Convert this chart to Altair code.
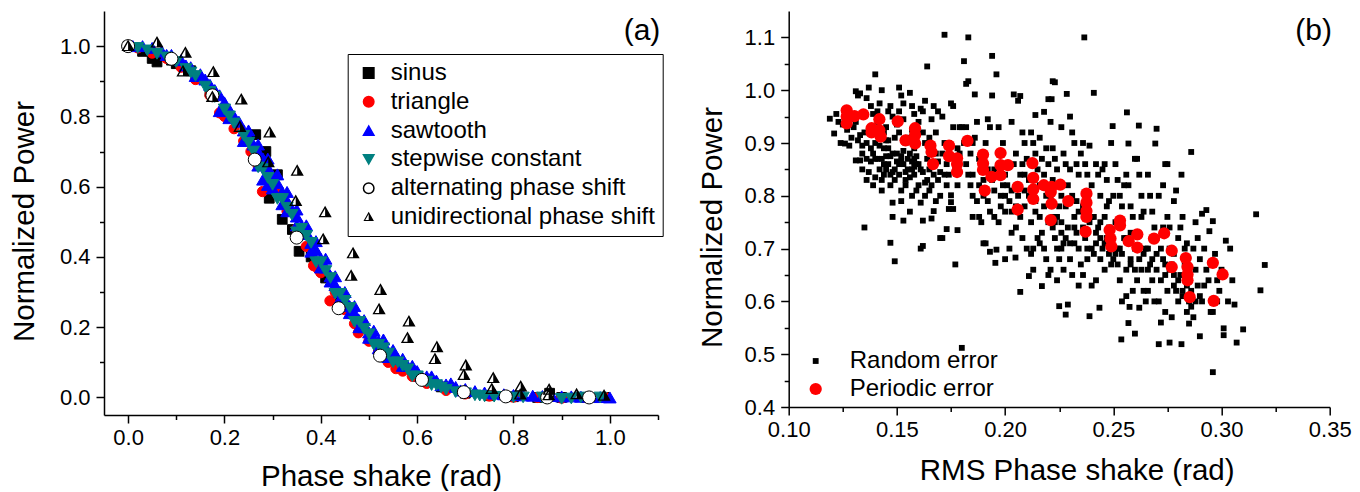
import altair as alt
import pandas as pd

FONT = "Liberation Sans"

# ---------------- panel (a): normalized power vs phase shake ----------------
SERIES_A = ["sinus", "triangle", "sawtooth", "stepwise constant",
            "alternating phase shift", "unidirectional phase shift"]

SINUS = [(0.0, 1.0), (0.03, 0.985), (0.05, 0.965), (0.06, 0.955), (0.09, 0.96),
         (0.10, 0.95), (0.13, 0.93), (0.17, 0.87), (0.21, 0.80), (0.25, 0.735),
         (0.265, 0.748), (0.286, 0.70), (0.293, 0.567), (0.30, 0.62), (0.31, 0.634),
         (0.32, 0.507), (0.341, 0.478), (0.355, 0.416), (0.38, 0.40), (0.41, 0.34),
         (0.44, 0.28), (0.48, 0.20), (0.52, 0.14), (0.56, 0.09), (0.60, 0.06),
         (0.65, 0.03), (0.70, 0.012), (0.75, 0.005), (0.80, 0.002), (0.85, 0.0),
         (0.875, 0.012), (0.90, 0.0), (0.95, 0.0), (0.99, 0.0)]

TRIANGLE = [(0.02, 0.995), (0.05, 0.98), (0.08, 0.965), (0.11, 0.94), (0.14, 0.905),
            (0.17, 0.86), (0.19, 0.81), (0.20, 0.80), (0.22, 0.765), (0.24, 0.73),
            (0.255, 0.70), (0.27, 0.66), (0.279, 0.586), (0.29, 0.62), (0.31, 0.58),
            (0.33, 0.53), (0.35, 0.48), (0.37, 0.43), (0.385, 0.375), (0.395, 0.365),
            (0.40, 0.355), (0.419, 0.275), (0.43, 0.30), (0.45, 0.25), (0.47, 0.21),
            (0.478, 0.184), (0.50, 0.16), (0.52, 0.13), (0.54, 0.10), (0.556, 0.082),
            (0.57, 0.075), (0.59, 0.06), (0.62, 0.04), (0.66, 0.02), (0.70, 0.01),
            (0.75, 0.004), (0.80, 0.001), (0.85, 0.0), (0.90, -0.002), (0.95, 0.0),
            (0.99, 0.0)]

SAWTOOTH = [(0.01, 1.0), (0.03, 1.0), (0.05, 0.995), (0.07, 0.985), (0.09, 0.975),
            (0.11, 0.96), (0.13, 0.94), (0.15, 0.92), (0.16, 0.905), (0.17, 0.89),
            (0.18, 0.875), (0.19, 0.86), (0.20, 0.84), (0.21, 0.82), (0.22, 0.80),
            (0.23, 0.785), (0.24, 0.76), (0.25, 0.74), (0.26, 0.72), (0.27, 0.70),
            (0.28, 0.68), (0.29, 0.655), (0.30, 0.63), (0.31, 0.61), (0.32, 0.585),
            (0.33, 0.56), (0.34, 0.535), (0.35, 0.515), (0.36, 0.49), (0.37, 0.47),
            (0.38, 0.44), (0.39, 0.42), (0.40, 0.395), (0.41, 0.37), (0.42, 0.345),
            (0.43, 0.32), (0.44, 0.30), (0.45, 0.28), (0.46, 0.26), (0.47, 0.24),
            (0.48, 0.22), (0.49, 0.20), (0.50, 0.185), (0.51, 0.17), (0.52, 0.16),
            (0.53, 0.145), (0.54, 0.13), (0.55, 0.12), (0.56, 0.11), (0.58, 0.09),
            (0.60, 0.075), (0.62, 0.06), (0.64, 0.048), (0.66, 0.037), (0.68, 0.03),
            (0.70, 0.024), (0.72, 0.018), (0.74, 0.014), (0.76, 0.011), (0.78, 0.009),
            (0.80, 0.007), (0.82, 0.006), (0.84, 0.005), (0.86, 0.004), (0.88, 0.004),
            (0.90, 0.003), (0.92, 0.003), (0.94, 0.002), (0.96, 0.002), (0.98, 0.001),
            (1.0, 0.0),
            (0.08, 0.975), (0.12, 0.945), (0.14, 0.915), (0.19, 0.815), (0.21, 0.795),
            (0.24, 0.73), (0.27, 0.66), (0.28, 0.62), (0.29, 0.605), (0.30, 0.595),
            (0.32, 0.55), (0.33, 0.53), (0.35, 0.49), (0.36, 0.465), (0.38, 0.415),
            (0.40, 0.37), (0.42, 0.33), (0.44, 0.28), (0.46, 0.24), (0.48, 0.20),
            (0.50, 0.17), (0.52, 0.14), (0.54, 0.115), (0.57, 0.09), (0.61, 0.06),
            (0.65, 0.035), (0.69, 0.02),
            (0.25, 0.76), (0.27, 0.72), (0.29, 0.68), (0.31, 0.635), (0.33, 0.585),
            (0.35, 0.535), (0.37, 0.49), (0.39, 0.445), (0.41, 0.395), (0.43, 0.345),
            (0.45, 0.30), (0.47, 0.26), (0.49, 0.22), (0.51, 0.19), (0.53, 0.165),
            (0.55, 0.135), (0.57, 0.11), (0.59, 0.09), (0.63, 0.06), (0.67, 0.04)]

STEPWISE = [(0.02, 0.995), (0.04, 0.988), (0.06, 0.978), (0.08, 0.968), (0.10, 0.955),
            (0.12, 0.935), (0.13, 0.925), (0.14, 0.915), (0.16, 0.885), (0.17, 0.87),
            (0.18, 0.855), (0.20, 0.82), (0.21, 0.80), (0.22, 0.78), (0.24, 0.745),
            (0.25, 0.725), (0.26, 0.70), (0.28, 0.65), (0.29, 0.625), (0.30, 0.605),
            (0.32, 0.565), (0.33, 0.54), (0.34, 0.52), (0.36, 0.48), (0.37, 0.46),
            (0.38, 0.44), (0.40, 0.385), (0.41, 0.36), (0.42, 0.34), (0.44, 0.295),
            (0.45, 0.275), (0.46, 0.255), (0.48, 0.215), (0.49, 0.195), (0.50, 0.18),
            (0.52, 0.15), (0.53, 0.14), (0.54, 0.125), (0.56, 0.10), (0.57, 0.09),
            (0.58, 0.08), (0.60, 0.06), (0.62, 0.045), (0.64, 0.035), (0.65, 0.028),
            (0.66, 0.022), (0.68, 0.015), (0.70, 0.012), (0.72, 0.006), (0.73, 0.005),
            (0.74, 0.003), (0.76, 0.002), (0.78, 0.001), (0.80, 0.0), (0.82, 0.0),
            (0.86, 0.0), (0.90, -0.004), (0.92, -0.003), (0.94, 0.0), (0.98, 0.0),
            (0.27, 0.655), (0.31, 0.565), (0.35, 0.47), (0.39, 0.385), (0.43, 0.295),
            (0.47, 0.215), (0.51, 0.15), (0.55, 0.10), (0.59, 0.06), (0.63, 0.035)]

ALTERNATING = [(0.0, 1.0), (0.09, 0.964), (0.175, 0.86), (0.263, 0.677), (0.35, 0.455),
               (0.437, 0.254), (0.523, 0.119), (0.61, 0.05), (0.697, 0.015),
               (0.784, 0.003), (0.87, 0.0), (0.957, 0.0)]

UNIDIRECTIONAL = [(0.0, 1.0), (0.06, 1.01), (0.119, 0.981), (0.114, 0.928), (0.177, 0.926),
                  (0.175, 0.855), (0.235, 0.848), (0.232, 0.77), (0.294, 0.754),
                  (0.291, 0.669), (0.351, 0.645), (0.348, 0.559), (0.409, 0.527),
                  (0.405, 0.45), (0.467, 0.41), (0.463, 0.346), (0.524, 0.306),
                  (0.521, 0.251), (0.583, 0.216), (0.58, 0.169), (0.641, 0.143),
                  (0.637, 0.109), (0.701, 0.091), (0.697, 0.064), (0.758, 0.055),
                  (0.755, 0.024), (0.815, 0.031), (0.814, 0.008), (0.874, 0.022),
                  (0.873, 0.006), (0.931, 0.009), (0.988, 0.005)]

# triangle whose right half is solid and left half is only outlined
HALF_TRIANGLE = ("M0,-1L1,0.75L0,0.75Z"
                 "M0,-1L-1,0.75L0,0.75Z"
                 "M0,-0.58L0,0.57L-0.65,0.57Z")

SHAPES_A = ["square", "circle", "triangle-up", "triangle-down", "circle", HALF_TRIANGLE]
FILLS_A = ["#000000", "#ff0000", "#0000ff", "#008080", "#ffffff", "#000000"]
STROKES_A = ["#000000", "#ff0000", "#0000ff", "#008080", "#000000", "transparent"]
SIZES_A = [95, 105, 160, 150, 170, 175]

A_X_DOMAIN = [-0.05, 1.1]
A_Y_DOMAIN = [-0.05, 1.1]
A_MAJOR = [0.0, 0.2, 0.4, 0.6, 0.8, 1.0]
A_X_MINOR = [0.1, 0.3, 0.5, 0.7, 0.9, 1.1]
A_Y_MINOR = [0.1, 0.3, 0.5, 0.7, 0.9]

# ---------------- panel (b): normalized power vs RMS phase shake ----------------
SERIES_B = ["Random error", "Periodic error"]

RANDOM = [
    (0.119, 0.946), (0.121, 0.918), (0.122, 0.955), (0.124, 0.90), (0.125, 0.935), (0.123, 0.94),
    (0.126, 0.899), (0.127, 0.925), (0.128, 0.895), (0.129, 0.91), (0.127, 0.96), (0.129, 0.945), (0.13, 0.93),
    (0.131, 0.998), (0.132, 0.99), (0.133, 0.994), (0.131, 0.867), (0.133, 0.867), (0.132, 0.905),
    (0.134, 0.895), (0.134, 0.85), (0.135, 0.74), (0.133, 0.915), (0.135, 0.92), (0.131, 0.94),
    (0.137, 1.005), (0.136, 0.985), (0.138, 0.97), (0.136, 0.83), (0.137, 0.845), (0.138, 0.865),
    (0.139, 0.82), (0.139, 0.88), (0.136, 0.90), (0.138, 0.93), (0.139, 0.955), (0.14, 1.03),
    (0.14, 0.835), (0.14, 0.90),
    (0.141, 0.96), (0.142, 0.975), (0.143, 1.0), (0.141, 0.87), (0.142, 0.85), (0.143, 0.81),
    (0.143, 0.83), (0.144, 0.89), (0.144, 0.86), (0.145, 0.93), (0.145, 0.905), (0.142, 0.915),
    (0.141, 0.94), (0.144, 0.84), (0.145, 0.875),
    (0.146, 0.96), (0.147, 0.97), (0.148, 0.95), (0.146, 0.89), (0.147, 0.711), (0.148, 0.76),
    (0.149, 0.676), (0.148, 0.787), (0.147, 0.82), (0.149, 0.85), (0.15, 0.88), (0.146, 0.86),
    (0.149, 0.91), (0.15, 0.935), (0.148, 0.845), (0.147, 0.875),
    (0.151, 1.005), (0.152, 0.99), (0.151, 0.96), (0.153, 0.975), (0.152, 0.79), (0.153, 0.753),
    (0.154, 0.82), (0.151, 0.84), (0.152, 0.865), (0.153, 0.885), (0.154, 0.90), (0.155, 0.85),
    (0.155, 0.87), (0.151, 0.92), (0.153, 0.945), (0.154, 0.83), (0.152, 0.81), (0.155, 0.91),
    (0.156, 0.995), (0.157, 0.97), (0.158, 0.955), (0.156, 0.77), (0.157, 0.80), (0.158, 0.84),
    (0.159, 0.86), (0.156, 0.88), (0.157, 0.85), (0.158, 0.87), (0.159, 0.90), (0.16, 0.82),
    (0.16, 0.94), (0.159, 0.81), (0.157, 0.925), (0.158, 0.89),
    (0.161, 0.965), (0.162, 0.96), (0.163, 0.98), (0.161, 0.70), (0.162, 0.705), (0.161, 0.787),
    (0.162, 0.753), (0.163, 0.80), (0.164, 0.83), (0.164, 0.87), (0.165, 0.85), (0.163, 0.90),
    (0.162, 0.92), (0.164, 1.045), (0.165, 0.91), (0.161, 0.85),
    (0.166, 0.757), (0.167, 0.771), (0.168, 0.79), (0.166, 0.82), (0.167, 0.84), (0.168, 0.88),
    (0.169, 0.865), (0.17, 0.845), (0.166, 0.945), (0.167, 0.97), (0.168, 0.92), (0.169, 0.96),
    (0.17, 0.80), (0.17, 0.72),
    (0.171, 0.72), (0.173, 0.737), (0.172, 1.105), (0.174, 0.775), (0.175, 0.788), (0.172, 0.84),
    (0.173, 0.86), (0.174, 0.90), (0.175, 0.975), (0.176, 0.97), (0.171, 0.95), (0.173, 0.82),
    (0.175, 0.801),
    (0.177, 0.67), (0.176, 0.775), (0.178, 0.735), (0.179, 0.93), (0.18, 0.512), (0.178, 0.82),
    (0.177, 0.85), (0.179, 0.88), (0.18, 0.93), (0.176, 0.93), (0.178, 0.89),
    (0.181, 1.055), (0.182, 1.012), (0.183, 1.017), (0.183, 1.10), (0.181, 0.90), (0.182, 0.86),
    (0.183, 0.84), (0.184, 0.82), (0.185, 0.80), (0.182, 0.93), (0.184, 0.88), (0.185, 0.90),
    (0.185, 0.76),
    (0.186, 0.992), (0.187, 0.79), (0.188, 0.82), (0.189, 0.85), (0.19, 0.87), (0.186, 0.91),
    (0.187, 0.94), (0.188, 0.76), (0.189, 0.75), (0.19, 0.71), (0.19, 0.80),
    (0.191, 0.71), (0.193, 0.694), (0.194, 1.065), (0.194, 0.99), (0.192, 0.945), (0.193, 0.93),
    (0.191, 0.90), (0.192, 0.85), (0.194, 0.83), (0.195, 0.81), (0.195, 0.76), (0.193, 0.77),
    (0.192, 0.79),
    (0.196, 1.03), (0.196, 0.698), (0.1955, 0.673), (0.197, 0.93), (0.198, 0.86), (0.199, 0.82),
    (0.20, 0.68), (0.197, 0.75), (0.198, 0.78), (0.20, 0.80), (0.199, 0.90), (0.20, 0.84),
    (0.202, 0.70), (0.203, 0.94), (0.204, 0.992), (0.2048, 0.683), (0.201, 0.82), (0.202, 0.79),
    (0.203, 0.77), (0.204, 0.86), (0.205, 0.88), (0.205, 0.74), (0.201, 0.86), (0.203, 0.73),
    (0.207, 0.989), (0.207, 0.618), (0.206, 0.98), (0.208, 0.92), (0.209, 0.90), (0.206, 0.80),
    (0.207, 0.76), (0.208, 0.72), (0.209, 0.84), (0.21, 0.87), (0.21, 0.70), (0.209, 0.78),
    (0.208, 0.86),
    (0.211, 0.648), (0.214, 0.953), (0.212, 0.92), (0.213, 0.90), (0.211, 0.83), (0.212, 0.75),
    (0.213, 0.70), (0.214, 0.77), (0.215, 0.85), (0.215, 0.72), (0.211, 0.80), (0.214, 0.88),
    (0.212, 0.69), (0.213, 0.66),
    (0.217, 0.629), (0.218, 0.959), (0.216, 0.91), (0.217, 0.87), (0.218, 0.84), (0.219, 0.80),
    (0.216, 0.76), (0.217, 0.73), (0.218, 0.70), (0.219, 0.68), (0.22, 0.65), (0.22, 0.983),
    (0.219, 0.89), (0.22, 0.86), (0.216, 0.71),
    (0.2215, 0.983), (0.222, 1.017), (0.223, 1.015), (0.221, 0.94), (0.222, 0.89), (0.223, 0.87),
    (0.224, 0.85), (0.221, 0.80), (0.222, 0.76), (0.223, 0.72), (0.224, 0.70), (0.225, 0.68),
    (0.225, 0.591), (0.224, 0.64), (0.221, 0.66), (0.223, 0.75), (0.225, 0.78), (0.222, 0.83),
    (0.2285, 0.993), (0.226, 0.93), (0.227, 0.88), (0.228, 0.86), (0.229, 0.82), (0.226, 0.75),
    (0.227, 0.71), (0.228, 0.575), (0.229, 0.594), (0.23, 0.68), (0.23, 0.95), (0.226, 0.80),
    (0.227, 0.66), (0.229, 0.74), (0.228, 0.78), (0.23, 0.85), (0.226, 0.70),
    (0.231, 0.92), (0.232, 0.90), (0.233, 0.86), (0.234, 0.84), (0.231, 0.80), (0.232, 0.76),
    (0.233, 0.73), (0.234, 0.70), (0.235, 0.67), (0.231, 0.65), (0.235, 0.88), (0.233, 0.79),
    (0.232, 0.71), (0.234, 0.63),
    (0.2366, 1.10), (0.236, 0.90), (0.237, 0.86), (0.238, 0.84), (0.239, 0.895), (0.236, 0.78),
    (0.237, 0.72), (0.238, 0.68), (0.239, 0.572), (0.24, 0.63), (0.24, 0.82), (0.236, 0.65),
    (0.238, 0.70), (0.239, 0.75), (0.24, 0.76),
    (0.241, 0.995), (0.242, 0.86), (0.243, 0.84), (0.244, 0.80), (0.241, 0.76), (0.242, 0.71),
    (0.2436, 0.588), (0.244, 0.68), (0.245, 0.70), (0.245, 0.85), (0.241, 0.69), (0.243, 0.74),
    (0.242, 0.64), (0.244, 0.72),
    (0.246, 0.86), (0.247, 0.83), (0.248, 0.79), (0.249, 0.90), (0.2497, 0.932), (0.246, 0.76),
    (0.247, 0.72), (0.248, 0.69), (0.249, 0.67), (0.25, 0.80), (0.25, 0.70), (0.246, 0.66),
    (0.248, 0.74), (0.247, 0.78),
    (0.251, 0.86), (0.252, 0.83), (0.253, 0.80), (0.254, 0.78), (0.2537, 0.528), (0.251, 0.69),
    (0.252, 0.67), (0.253, 0.64), (0.254, 0.60), (0.255, 0.72), (0.255, 0.82), (0.251, 0.75),
    (0.253, 0.70),
    (0.2563, 0.958), (0.257, 0.899), (0.257, 0.559), (0.2575, 0.5896), (0.256, 0.84), (0.257, 0.82),
    (0.258, 0.78), (0.259, 0.76), (0.256, 0.66), (0.258, 0.68), (0.259, 0.62), (0.26, 0.539),
    (0.26, 0.87), (0.258, 0.73), (0.26, 0.70), (0.256, 0.61),
    (0.2618, 0.933), (0.262, 0.588), (0.261, 0.87), (0.262, 0.84), (0.263, 0.80), (0.264, 0.77),
    (0.261, 0.73), (0.262, 0.70), (0.263, 0.66), (0.264, 0.62), (0.265, 0.60), (0.265, 0.70),
    (0.261, 0.64), (0.263, 0.76),
    (0.2694, 0.899), (0.27, 0.927), (0.266, 0.84), (0.267, 0.80), (0.268, 0.77), (0.269, 0.74),
    (0.266, 0.70), (0.267, 0.67), (0.268, 0.64), (0.269, 0.60), (0.27, 0.72), (0.27, 0.66),
    (0.266, 0.62),
    (0.271, 0.519), (0.272, 0.56), (0.273, 0.82), (0.274, 0.86), (0.275, 0.86), (0.271, 0.80),
    (0.272, 0.70), (0.273, 0.68), (0.274, 0.65), (0.275, 0.62), (0.271, 0.60), (0.273, 0.74),
    (0.275, 0.76), (0.274, 0.58),
    (0.276, 0.522), (0.277, 0.57), (0.278, 0.79), (0.279, 0.81), (0.276, 0.70), (0.277, 0.67),
    (0.278, 0.65), (0.279, 0.62), (0.28, 0.60), (0.28, 0.72), (0.276, 0.74), (0.278, 0.69),
    (0.2815, 0.519), (0.2815, 0.84), (0.282, 0.76), (0.283, 0.70), (0.284, 0.58), (0.281, 0.65),
    (0.282, 0.62), (0.283, 0.67), (0.285, 0.558), (0.285, 0.60), (0.284, 0.71), (0.281, 0.74),
    (0.286, 0.883), (0.287, 0.70), (0.288, 0.66), (0.289, 0.63), (0.29, 0.534), (0.286, 0.59),
    (0.287, 0.57), (0.288, 0.75), (0.29, 0.68), (0.289, 0.72),
    (0.291, 0.766), (0.293, 0.773), (0.2944, 0.733), (0.292, 0.70), (0.293, 0.66), (0.294, 0.64),
    (0.291, 0.60), (0.295, 0.58), (0.292, 0.63),
    (0.296, 0.752), (0.296, 0.466), (0.297, 0.69), (0.298, 0.64), (0.299, 0.62), (0.296, 0.58),
    (0.298, 0.60), (0.30, 0.66),
    (0.301, 0.549), (0.301, 0.536), (0.302, 0.715), (0.304, 0.70), (0.306, 0.594), (0.307, 0.522),
    (0.31, 0.547), (0.303, 0.60), (0.305, 0.64),
    (0.316, 0.765), (0.318, 0.621), (0.32, 0.669),
]

# extra random-error runs in the crowded parts of the cloud
RANDOM_DENSE = [
    (0.143, 0.87), (0.145, 0.85), (0.147, 0.84), (0.149, 0.83), (0.151, 0.86), (0.152, 0.875),
    (0.153, 0.86), (0.154, 0.845), (0.156, 0.835), (0.157, 0.865), (0.158, 0.855), (0.159, 0.875),
    (0.15, 0.865), (0.148, 0.88), (0.146, 0.905), (0.144, 0.92), (0.142, 0.895), (0.14, 0.87),
    (0.138, 0.89), (0.136, 0.87), (0.134, 0.88), (0.16, 0.86), (0.162, 0.845), (0.163, 0.825),
    (0.165, 0.81), (0.167, 0.86), (0.169, 0.83), (0.171, 0.88), (0.172, 0.90), (0.174, 0.84),
    (0.212, 0.81), (0.214, 0.79), (0.216, 0.82), (0.218, 0.78), (0.22, 0.75), (0.222, 0.74),
    (0.224, 0.76), (0.226, 0.73), (0.228, 0.72), (0.23, 0.71), (0.232, 0.74), (0.234, 0.77),
    (0.236, 0.74), (0.238, 0.76), (0.24, 0.70), (0.242, 0.73), (0.244, 0.75), (0.246, 0.71),
    (0.248, 0.72), (0.25, 0.68), (0.252, 0.70), (0.254, 0.69), (0.256, 0.72), (0.258, 0.67),
    (0.26, 0.66), (0.262, 0.68), (0.264, 0.69), (0.266, 0.66), (0.268, 0.68), (0.27, 0.69),
    (0.272, 0.64), (0.274, 0.67), (0.276, 0.66), (0.278, 0.63), (0.28, 0.64), (0.282, 0.61),
    (0.284, 0.63), (0.286, 0.62), (0.288, 0.60), (0.29, 0.61),
    (0.185, 0.84), (0.188, 0.87), (0.19, 0.83), (0.195, 0.85), (0.198, 0.80), (0.20, 0.77),
    (0.203, 0.81), (0.205, 0.78), (0.207, 0.84), (0.209, 0.81),
]

PERIODIC = [
    (0.1268, 0.962), (0.1268, 0.95), (0.1268, 0.937), (0.1304, 0.951), (0.1345, 0.954),
    (0.1383, 0.928), (0.1383, 0.92), (0.1419, 0.945), (0.1419, 0.924), (0.1425, 0.912),
    (0.1504, 0.941), (0.154, 0.905), (0.1584, 0.928), (0.1584, 0.915), (0.1584, 0.899),
    (0.1655, 0.895), (0.166, 0.883), (0.1667, 0.86), (0.1741, 0.895), (0.1741, 0.875),
    (0.1778, 0.871), (0.1778, 0.86), (0.1778, 0.845), (0.1826, 0.904), (0.1898, 0.878),
    (0.1898, 0.861), (0.1898, 0.849), (0.1906, 0.81), (0.1937, 0.836), (0.1979, 0.881),
    (0.1979, 0.858), (0.1979, 0.839), (0.2013, 0.858), (0.2058, 0.817), (0.2058, 0.774),
    (0.2126, 0.862), (0.213, 0.834), (0.213, 0.812), (0.213, 0.794), (0.2179, 0.82),
    (0.2211, 0.807), (0.2215, 0.817), (0.2215, 0.785), (0.2211, 0.754), (0.2255, 0.821),
    (0.2292, 0.79), (0.2376, 0.804), (0.2376, 0.787), (0.2376, 0.771), (0.2376, 0.76),
    (0.2372, 0.732), (0.2483, 0.735), (0.2487, 0.719), (0.2491, 0.704), (0.2531, 0.753),
    (0.2531, 0.744), (0.2571, 0.714), (0.2611, 0.727), (0.2611, 0.702), (0.2688, 0.719),
    (0.2735, 0.729), (0.277, 0.696), (0.277, 0.665), (0.2835, 0.682), (0.2843, 0.665),
    (0.2843, 0.651), (0.2843, 0.64), (0.2853, 0.608), (0.296, 0.673), (0.2964, 0.601),
    (0.3005, 0.651),
]

B_X_DOMAIN = [0.10, 0.35]
B_Y_DOMAIN = [0.4, 1.15]
B_X_MAJOR = [0.10, 0.15, 0.20, 0.25, 0.30, 0.35]
B_X_MINOR = [0.125, 0.175, 0.225, 0.275, 0.325]
B_Y_MAJOR = [0.4, 0.5, 0.6, 0.7, 0.8, 0.9, 1.0, 1.1]
B_Y_MINOR = [0.45, 0.55, 0.65, 0.75, 0.85, 0.95, 1.05]


def frame(pairs, name, key):
    return pd.DataFrame(pairs, columns=["x", "y"]).assign(**{key: name})


df_a = pd.concat(
    [frame(p, n, "waveform").assign(sz=s) for n, p, s in zip(
        SERIES_A, [SINUS, TRIANGLE, SAWTOOTH, STEPWISE, ALTERNATING, UNIDIRECTIONAL], SIZES_A)],
    ignore_index=True)
df_b = pd.concat([frame(RANDOM + RANDOM_DENSE, SERIES_B[0], "error"),
                  frame(PERIODIC, SERIES_B[1], "error")],
                 ignore_index=True)

MAJOR_TICK = 8
MINOR_TICK = 4.5
TITLE_SIZE = 29.5
LEGEND_SIZE = 24


def minor_layer(data, xdom, ydom, xvals, yvals):
    return alt.Chart(data.head(1)).mark_point(opacity=0).encode(
        x=alt.X("x:Q", scale=alt.Scale(domain=xdom, nice=False, zero=False),
                axis=alt.Axis(values=xvals, orient="bottom", labels=False, domain=False,
                              tickSize=MINOR_TICK, title=None)),
        y=alt.Y("y:Q", scale=alt.Scale(domain=ydom, nice=False, zero=False),
                axis=alt.Axis(values=yvals, orient="left", labels=False, domain=False,
                              tickSize=MINOR_TICK, title=None)),
    )


def tag(text, px, py):
    return alt.Chart(pd.DataFrame({"tag": [text]})).mark_text(
        font=FONT, fontSize=30, color="black").encode(
        text="tag:N", x=alt.value(px), y=alt.value(py))


legend_a = alt.Legend(title=None, orient="none", legendX=243.7, legendY=43,
                      padding=7, rowPadding=4.8, strokeColor="black", fillColor="white",
                      labelFont=FONT, labelFontSize=LEGEND_SIZE, labelColor="black",
                      symbolSize=110, symbolOffset=2, labelOffset=10, labelLimit=500)

points_a = alt.Chart(df_a).mark_point(filled=True, opacity=1, strokeWidth=1).encode(
    x=alt.X("x:Q", scale=alt.Scale(domain=A_X_DOMAIN, nice=False, zero=False),
            axis=alt.Axis(values=A_MAJOR, format=".1f", tickSize=MAJOR_TICK, labelPadding=4,
                          title="Phase shake (rad)", titlePadding=14)),
    y=alt.Y("y:Q", scale=alt.Scale(domain=A_Y_DOMAIN, nice=False, zero=False),
            axis=alt.Axis(values=A_MAJOR, format=".1f", tickSize=MAJOR_TICK, labelPadding=6,
                          title="Normalized Power", titlePadding=20, titleY=210)),
    shape=alt.Shape("waveform:N", scale=alt.Scale(domain=SERIES_A, range=SHAPES_A), legend=legend_a),
    fill=alt.Fill("waveform:N", scale=alt.Scale(domain=SERIES_A, range=FILLS_A), legend=legend_a),
    stroke=alt.Stroke("waveform:N", scale=alt.Scale(domain=SERIES_A, range=STROKES_A), legend=legend_a),
    size=alt.Size("sz:Q", scale=None),
)

panel_a = alt.layer(
    points_a,
    minor_layer(df_a, A_X_DOMAIN, A_Y_DOMAIN, A_X_MINOR, A_Y_MINOR),
    tag("(a)", 538, 20),
).resolve_axis(x="independent", y="independent").properties(width=554, height=404)

legend_b = alt.Legend(title=None, orient="none", legendX=15, legendY=338,
                      padding=0, rowPadding=4,
                      labelFont=FONT, labelFontSize=LEGEND_SIZE, labelColor="black",
                      labelOffset=22, labelLimit=500)

points_b = alt.Chart(df_b).mark_point(filled=True, opacity=1).encode(
    x=alt.X("x:Q", scale=alt.Scale(domain=B_X_DOMAIN, nice=False, zero=False),
            axis=alt.Axis(values=B_X_MAJOR, format=".2f", tickSize=MAJOR_TICK, labelPadding=4,
                          title="RMS Phase shake (rad)", titlePadding=16, titleX=288)),
    y=alt.Y("y:Q", scale=alt.Scale(domain=B_Y_DOMAIN, nice=False, zero=False),
            axis=alt.Axis(values=B_Y_MAJOR, format=".1f", tickSize=MAJOR_TICK, labelPadding=6,
                          title="Normalized Power", titlePadding=17, titleY=216)),
    shape=alt.Shape("error:N", scale=alt.Scale(domain=SERIES_B, range=["square", "circle"]),
                    legend=legend_b),
    fill=alt.Fill("error:N", scale=alt.Scale(domain=SERIES_B, range=["#000000", "#ff0000"]),
                  legend=legend_b),
    size=alt.Size("error:N", scale=alt.Scale(domain=SERIES_B, range=[34, 150]),
                  legend=legend_b),
)

panel_b = alt.layer(
    points_b,
    minor_layer(df_b, B_X_DOMAIN, B_Y_DOMAIN, B_X_MINOR, B_Y_MINOR),
    tag("(b)", 525, 20),
).resolve_axis(x="independent", y="independent").properties(width=541, height=396)

chart = alt.hconcat(panel_a, panel_b, spacing=130.7, bounds="flush").resolve_scale(
    shape="independent", fill="independent", stroke="independent", size="independent",
).resolve_legend(
    shape="independent", fill="independent", stroke="independent", size="independent",
).properties(
    padding={"left": 9, "top": 11, "right": 0, "bottom": 0},
    background="white",
).configure_view(strokeWidth=0).configure_axis(
    grid=False, labelFlush=False,
    domainColor="black", domainWidth=1.5,
    tickColor="black", tickWidth=1.5,
    labelFont=FONT, labelFontSize=22, labelColor="black",
    titleFont=FONT, titleFontSize=TITLE_SIZE, titleFontWeight="normal", titleColor="black",
)

chart.save("out.html", embed_options={"renderer": "svg", "actions": False})
